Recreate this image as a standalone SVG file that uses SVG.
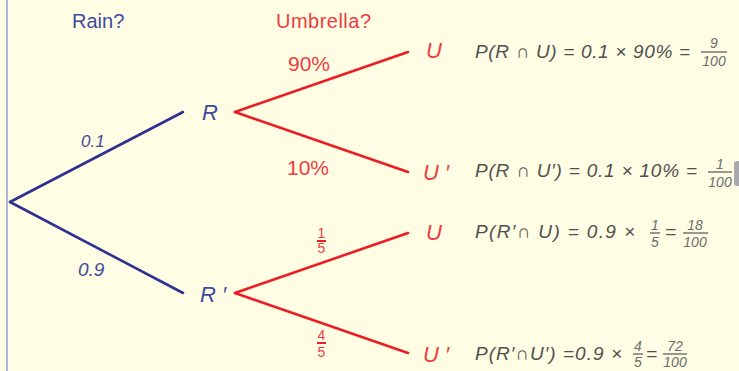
<svg xmlns="http://www.w3.org/2000/svg" width="739" height="371" viewBox="0 0 739 371">
<style>
  .blue { stroke: #2e3192; stroke-width: 2.6; fill: none; stroke-linecap: round; }
  .red { stroke: #ed1c24; stroke-width: 2.6; fill: none; stroke-linecap: round; }
  .bt { fill: #3f4aa0; font-family: "Liberation Sans", Arial, sans-serif; }
  .rt { fill: #ef3b42; font-family: "Liberation Sans", Arial, sans-serif; }
  .node { font-style: italic; font-size: 22px; }
  .eq { fill: #505050; font-family: "Liberation Sans", Arial, sans-serif; font-size: 19px; font-style: italic; }
  .fr { fill: #6d6d6d; font-family: "Liberation Sans", Arial, sans-serif; font-size: 14px; font-style: italic; text-anchor: middle; }
  .frbar { stroke: #555; stroke-width: 1.2; }
  .rfr { fill: #ef3b42; font-family: "Liberation Sans", Arial, sans-serif; font-size: 14px; text-anchor: middle; }
</style>
<rect x="0" y="0" width="739" height="371" fill="#fffde3"/>
<line x1="7" y1="0" x2="7" y2="371" stroke="#8f9fd2" stroke-width="1.5"/>
<rect x="734" y="161" width="8" height="25" rx="3" fill="#a7a9ac"/>

<text class="bt" x="72" y="28" font-size="20">Rain?</text>
<text class="rt" x="276" y="28" font-size="20" textLength="95">Umbrella?</text>

<g id="connectors">
  <line class="blue" x1="10" y1="202" x2="183" y2="112"/>
  <line class="blue" x1="10" y1="202" x2="183" y2="293"/>
  <line class="red" x1="235" y1="112" x2="408" y2="52"/>
  <line class="red" x1="235" y1="112" x2="408" y2="172"/>
  <line class="red" x1="235" y1="293" x2="408" y2="233"/>
  <line class="red" x1="235" y1="293" x2="408" y2="353"/>
  <text class="bt" x="81" y="147" font-size="17" font-style="italic">0.1</text>
  <text class="bt" x="78" y="276" font-size="19" font-style="italic">0.9</text>
  <text class="rt" x="288" y="71" font-size="21">90%</text>
  <text class="rt" x="287" y="175" font-size="21">10%</text>
  <text class="rfr" x="321.5" y="238">1</text>
  <line x1="317" y1="241" x2="326" y2="241" stroke="#ed1c24" stroke-width="2"/>
  <text class="rfr" x="321.5" y="253">5</text>
  <text class="rfr" x="321.5" y="340">4</text>
  <line x1="317" y1="343" x2="326" y2="343" stroke="#ed1c24" stroke-width="2"/>
  <text class="rfr" x="321.5" y="357">5</text>
</g>

<g id="root"><circle cx="10" cy="202" r="0.1" fill="#2e3192"/></g>
<g id="R"><text class="bt node" x="202" y="120">R</text></g>
<g id="Rp"><text class="bt node" x="200" y="302">R ′</text></g>

<g id="U1">
  <text class="rt node" x="426" y="58">U</text>
  <text class="eq" x="475" y="58" textLength="215" lengthAdjust="spacing">P(R ∩ U) = 0.1 × 90% =</text>
  <text class="fr" x="714" y="48">9</text>
  <line class="frbar" x1="701" y1="52" x2="727" y2="52"/>
  <text class="fr" x="714" y="66">100</text>
</g>
<g id="U2">
  <text class="rt node" x="423" y="180">U ′</text>
  <text class="eq" x="475" y="177" textLength="222" lengthAdjust="spacing">P(R ∩ U′) = 0.1 × 10%  =</text>
  <text class="fr" x="720" y="169">1</text>
  <line class="frbar" x1="708" y1="172" x2="732" y2="172"/>
  <text class="fr" x="720" y="187">100</text>
</g>
<g id="U3">
  <text class="rt node" x="426" y="240">U</text>
  <text class="eq" x="475" y="238" textLength="160" lengthAdjust="spacing">P(R′∩ U) = 0.9 ×</text>
  <text class="fr" x="655" y="230">1</text>
  <line class="frbar" x1="650" y1="233" x2="660" y2="233"/>
  <text class="fr" x="655" y="247">5</text>
  <text class="eq" x="665" y="238" font-style="normal">=</text>
  <text class="fr" x="695" y="230">18</text>
  <line class="frbar" x1="683" y1="233" x2="708" y2="233"/>
  <text class="fr" x="695" y="247">100</text>
</g>
<g id="U4">
  <text class="rt node" x="423" y="362">U ′</text>
  <text class="eq" x="475" y="360" textLength="147" lengthAdjust="spacing">P(R′∩U′) =0.9 ×</text>
  <text class="fr" x="638" y="351">4</text>
  <line class="frbar" x1="633" y1="354" x2="643" y2="354"/>
  <text class="fr" x="638" y="367">5</text>
  <text class="eq" x="646" y="360" font-style="normal">=</text>
  <text class="fr" x="675" y="351">72</text>
  <line class="frbar" x1="663" y1="354" x2="687" y2="354"/>
  <text class="fr" x="675" y="367">100</text>
</g>
</svg>
